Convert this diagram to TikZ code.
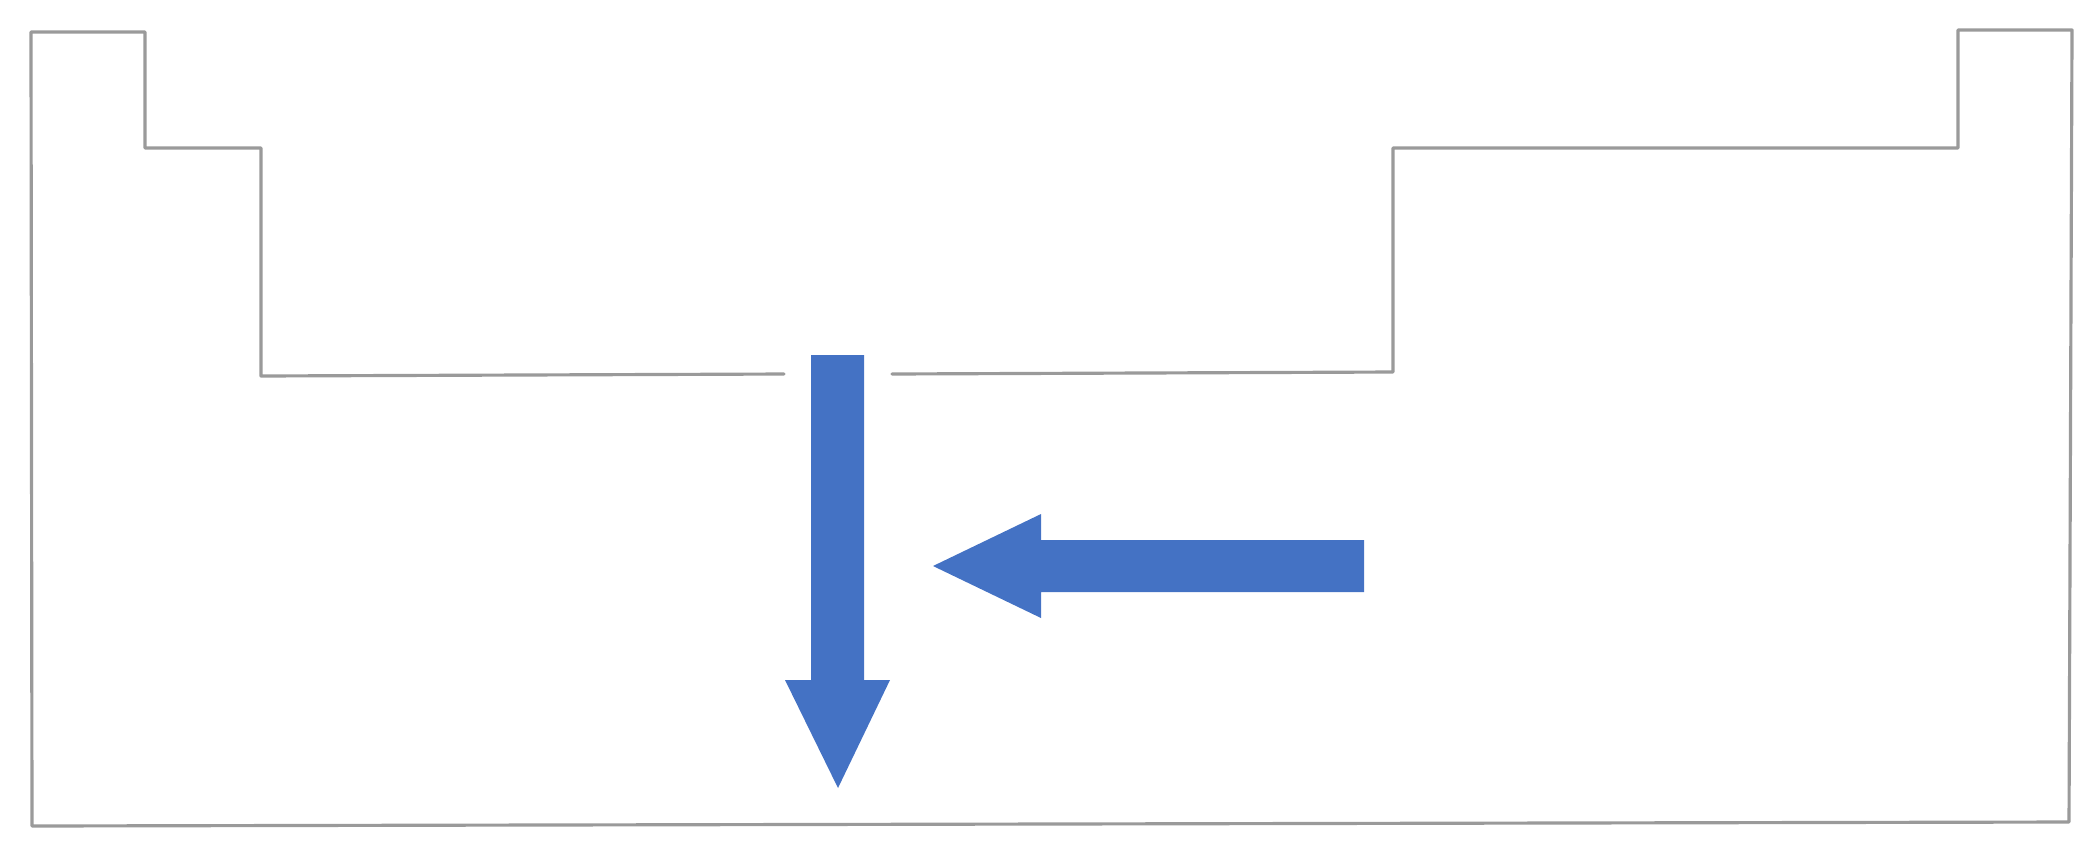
\documentclass[tikz,border=0pt]{standalone}
\usetikzlibrary{calc}
\definecolor{outlinegray}{HTML}{9A9A9A}
\definecolor{flowblue}{HTML}{4472C4}
\begin{document}
\begin{tikzpicture}[x=0.01cm,y=-0.01cm,
  outline/.style={draw=outlinegray,line width=0.9pt,line join=round,line cap=round},
  blockarrow/.style={fill=flowblue,draw=none}]
\useasboundingbox (0,0) rectangle (2100,860);
% stepped outline, left part
\draw[outline] (784,374) -- (261,376) -- (261,148) -- (145,148) -- (145,32) -- (31,32)
  -- (32,826) -- (2069,822) -- (2072,30) -- (1958,30) -- (1958,148) -- (1393,148)
  -- (1393,372) -- (892,374);
% downward block arrow
\fill[blockarrow] (811,355) -- (864,355) -- (864,680) -- (890,680) -- (838,788)
  -- (785,680) -- (811,680) -- cycle;
% leftward block arrow
\fill[blockarrow] (1364,540) -- (1041,540) -- (1041,514) -- (933,566) -- (1041,618)
  -- (1041,592) -- (1364,592) -- cycle;
\end{tikzpicture}
\end{document}
